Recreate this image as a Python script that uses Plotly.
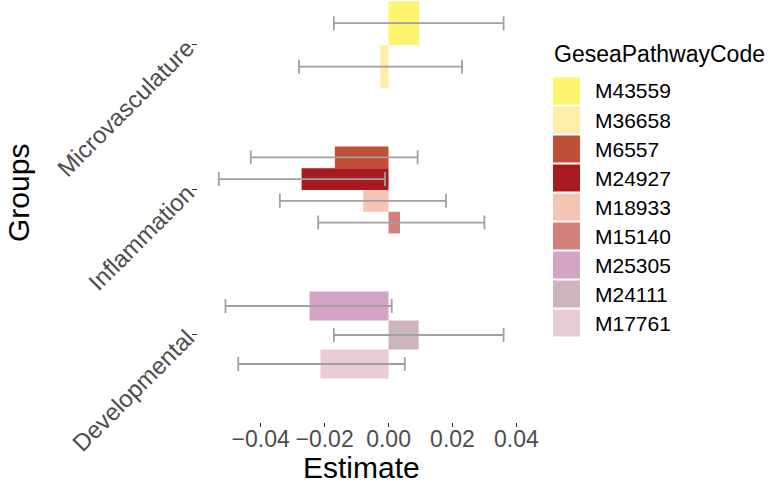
import plotly.graph_objects as go

# ---- data ----
groups = ["Microvasculature", "Microvasculature",
          "Inflammation", "Inflammation", "Inflammation", "Inflammation",
          "Developmental", "Developmental", "Developmental"]
codes = ["M43559", "M36658", "M6557", "M24927", "M18933", "M15140",
         "M25305", "M24111", "M17761"]
estimate = [0.0096, -0.0026, -0.0168, -0.0272, -0.0079, 0.0036,
            -0.0247, 0.0094, -0.0213]
ci_low = [-0.0171, -0.0280, -0.0431, -0.0531, -0.0340, -0.0220,
          -0.0510, -0.0171, -0.0470]
ci_high = [0.0360, 0.0230, 0.0091, -0.0011, 0.0180, 0.0300,
           0.0010, 0.0360, 0.0051]
colors = ["#FFF470", "#FFEEAA", "#C24F38", "#A51B1F", "#F6C4B3",
          "#D4807A", "#D3A4C4", "#CCB3BD", "#E7CCD8"]
category_order = ["Developmental", "Inflammation", "Microvasculature"]
x_ticks = [-0.04, -0.02, 0.0, 0.02, 0.04]

# ---- layout constants (pixels) ----
W, H = 768, 484
L, R, T, B = 198, 250, 0, 62
PW, PH = W - L - R, H - T - B
FONT = "Liberation Sans, Arial, Helvetica, sans-serif"
DODGE = 0.6

fig = go.Figure()

counts = {g: groups.count(g) for g in set(groups)}
seen = {}
for g, c, est, lo, hi, col in zip(groups, codes, estimate, ci_low, ci_high, colors):
    n = counts[g]
    i = seen.get(g, 0)
    seen[g] = i + 1
    w = DODGE / n
    off = DODGE / 2 - (i + 1) * w
    fig.add_trace(go.Bar(
        y=[g], x=[est], orientation="h", name=c,
        width=[w], offset=[off],
        marker=dict(color=col, line=dict(width=0)),
        error_x=dict(type="data", symmetric=False,
                     array=[hi - est], arrayminus=[est - lo],
                     color="#A0A0A0", thickness=1.8, width=7),
        showlegend=False,
    ))

fig.update_layout(
    width=W, height=H,
    margin=dict(l=L, r=R, t=T, b=B),
    paper_bgcolor="white", plot_bgcolor="white",
    barmode="overlay",
    font=dict(family=FONT, color="#4D4D4D"),
    xaxis=dict(range=[-0.0596, 0.0405], tickvals=x_ticks, tickformat=".2f",
               ticks="outside", ticklen=4, tickwidth=1, tickcolor="#333333",
               ticklabelstandoff=-8,
               showgrid=False, zeroline=False, showline=False,
               tickfont=dict(size=23, color="#4D4D4D")),
    yaxis=dict(type="category", categoryorder="array", categoryarray=category_order,
               range=[-0.6, 2.31], tickangle=-45,
               ticks="outside", ticklen=5, tickwidth=1, tickcolor="#333333",
               showgrid=False, zeroline=False, showline=False,
               tickfont=dict(size=24, color="#4D4D4D")),
)

def px2paper(px, py):
    return (px - L) / PW, (H - B - py) / PH

annotations = []
shapes = []
# axis titles
x0, y0 = px2paper(361, 467)
annotations.append(dict(text="Estimate", x=x0, y=y0, xref="paper", yref="paper",
                        showarrow=False, font=dict(size=30, color="black"),
                        xanchor="center", yanchor="middle"))
x0, y0 = px2paper(18, 193)
annotations.append(dict(text="Groups", x=x0, y=y0, xref="paper", yref="paper",
                        showarrow=False, textangle=-90, font=dict(size=30, color="black"),
                        xanchor="center", yanchor="middle"))
# legend
x0, y0 = px2paper(552, 54)
annotations.append(dict(text="GeseaPathwayCode", x=x0, y=y0, xref="paper", yref="paper",
                        showarrow=False, font=dict(size=23, color="black"),
                        xanchor="left", yanchor="middle"))
key_top, key_step = 76.5, 29.0
for k, (c, col) in enumerate(zip(codes, colors)):
    top = key_top + k * key_step
    ax0, ay0 = px2paper(553, top + 28)
    ax1, ay1 = px2paper(580, top + 1)
    shapes.append(dict(type="rect", xref="paper", yref="paper",
                       x0=ax0, y0=ay0, x1=ax1, y1=ay1,
                       fillcolor=col, line=dict(width=0)))
    tx, ty = px2paper(593, top + 14.5)
    annotations.append(dict(text=c, x=tx, y=ty, xref="paper", yref="paper",
                            showarrow=False, font=dict(size=21, color="black"),
                            xanchor="left", yanchor="middle"))

fig.update_layout(annotations=annotations, shapes=shapes)
fig.write_html("out.html", config={"displayModeBar": False},
               post_script="document.body.style.margin='0px';")
